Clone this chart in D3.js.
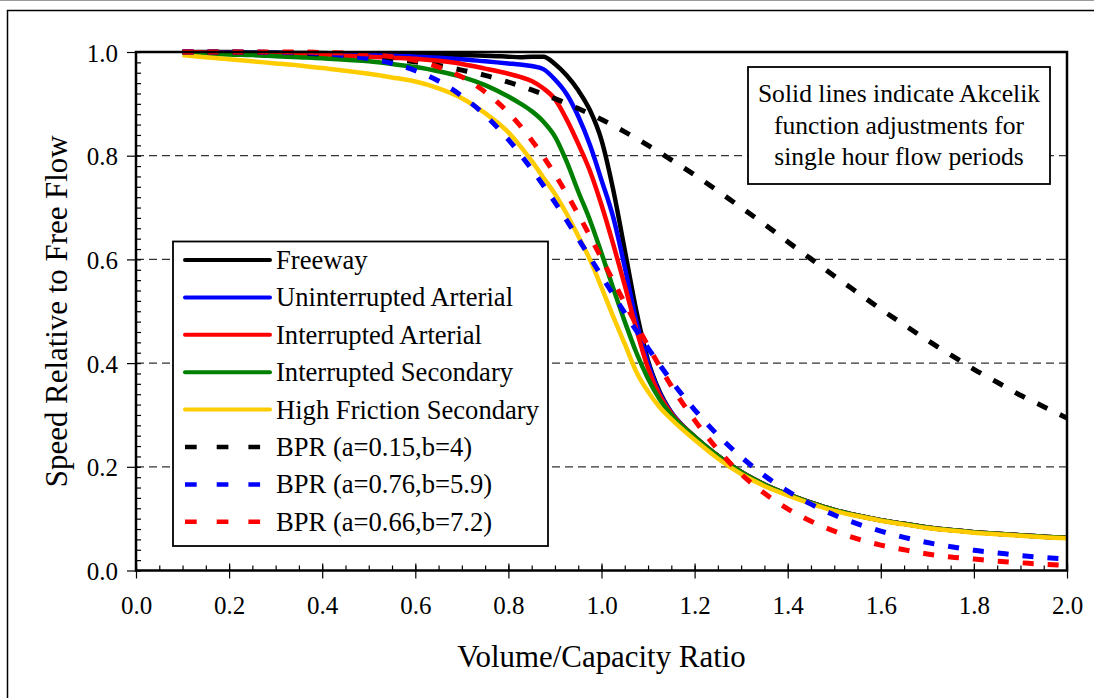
<!DOCTYPE html>
<html>
<head>
<meta charset="utf-8">
<script src="https://cdn.jsdelivr.net/npm/d3@7"></script>
<style>
  body { margin: 0; background: #fff; }
  svg { display: block; font-family: "Liberation Serif", "Times New Roman", serif; }
</style>
</head>
<body>
<div id="chart"></div>
<script>
// Akcelik curves (solid) share one x grid, finer around the knee
const akX = [0.1,0.15,0.2,0.25,0.3,0.35,0.4,0.45,0.5,0.55,0.6,0.65,0.7,0.75,0.8,
    0.825,0.85,0.875,0.9,0.925,0.95,0.975,1.0,1.025,1.05,1.075,1.1,1.125,1.15,
    1.2,1.25,1.3,1.35,1.4,1.45,1.5,1.55,1.6,1.65,1.7,1.75,1.8,1.85,1.9,1.95,2.0]

const freeway = [1.000,1.000,1.000,0.999,0.999,0.998,0.998,0.997,0.997,0.996,0.996,0.995,0.994,0.993,0.991,
    0.990,0.991,0.991,0.977,0.955,0.926,0.888,0.830,0.735,0.618,0.500,0.405,0.345,0.305,
    0.258,0.221,0.190,0.166,0.147,0.131,0.117,0.106,0.097,0.090,0.083,0.078,0.074,0.071,0.068,0.065,0.063]
const uninterruptedArterial = [1.000,0.999,0.999,0.998,0.998,0.997,0.996,0.995,0.994,0.993,0.991,0.989,0.986,0.982,0.978,
    0.976,0.973,0.967,0.947,0.919,0.876,0.821,0.753,0.682,0.585,0.480,0.400,0.342,0.305,
    0.258,0.221,0.190,0.166,0.147,0.131,0.117,0.106,0.097,0.090,0.083,0.078,0.074,0.071,0.068,0.065,0.063]
const interruptedArterial = [1.000,0.999,0.998,0.997,0.996,0.995,0.994,0.993,0.991,0.989,0.987,0.983,0.977,0.968,0.958,
    0.952,0.944,0.930,0.909,0.870,0.823,0.771,0.705,0.630,0.550,0.465,0.390,0.338,0.303,
    0.258,0.221,0.190,0.166,0.147,0.131,0.117,0.106,0.097,0.090,0.083,0.078,0.074,0.071,0.068,0.065,0.063]
const interruptedSecondary = [0.998,0.997,0.995,0.994,0.992,0.990,0.988,0.985,0.982,0.977,0.971,0.963,0.952,0.936,0.914,
    0.901,0.886,0.866,0.837,0.789,0.731,0.676,0.612,0.545,0.480,0.420,0.370,0.330,0.300,
    0.258,0.221,0.190,0.166,0.147,0.131,0.117,0.106,0.097,0.090,0.083,0.078,0.074,0.071,0.068,0.065,0.063]
const highFrictionSecondary = [0.994,0.990,0.986,0.982,0.978,0.974,0.969,0.964,0.958,0.951,0.943,0.930,0.911,0.882,0.845,
    0.819,0.790,0.758,0.726,0.688,0.645,0.600,0.546,0.490,0.437,0.383,0.345,0.315,0.292,
    0.252,0.216,0.186,0.163,0.145,0.129,0.115,0.105,0.096,0.089,0.082,0.077,0.073,0.070,0.067,0.064,0.062]

// BPR curves (dashed)
const bprX = [0.1,0.15,0.2,0.25,0.3,0.35,0.4,0.45,0.5,0.55,0.6,0.65,0.7,0.75,0.8,0.85,0.9,0.95,1.0,1.05,
    1.1,1.15,1.2,1.25,1.3,1.35,1.4,1.45,1.5,1.55,1.6,1.65,1.7,1.75,1.8,1.85,1.9,1.95,2.0]
const bprA015 = [1.000,1.000,1.000,0.999,0.999,0.998,0.996,0.994,0.991,0.987,0.981,0.974,0.965,0.955,0.942,0.927,0.910,0.891,0.870,0.846,
    0.820,0.792,0.763,0.732,0.700,0.668,0.634,0.601,0.568,0.536,0.504,0.474,0.444,0.416,0.388,0.363,0.338,0.316,0.294]
const bprA076 = [1.000,1.000,1.000,1.000,0.999,0.999,0.997,0.993,0.987,0.978,0.964,0.944,0.915,0.878,0.831,0.774,0.710,0.640,0.568,0.497,
    0.429,0.366,0.310,0.261,0.219,0.183,0.153,0.128,0.107,0.090,0.076,0.064,0.054,0.046,0.039,0.034,0.029,0.025,0.022]
const bprA066 = [1.000,1.000,1.000,1.000,1.000,1.000,0.999,0.998,0.996,0.991,0.984,0.971,0.952,0.923,0.883,0.830,0.764,0.687,0.602,0.516,
    0.433,0.356,0.290,0.233,0.186,0.149,0.119,0.095,0.076,0.061,0.049,0.040,0.032,0.026,0.022,0.018,0.015,0.012,0.010]

const xTicks = [0,0.2,0.4,0.6,0.8,1.0,1.2,1.4,1.6,1.8,2.0]
const yTicks = [0,0.2,0.4,0.6,0.8,1.0]
const gridValues = [0.2,0.4,0.6,0.8]
const noteLines = ["Solid lines indicate Akcelik", "function adjustments for", "single hour flow periods"]

const series = [
    { name: "Freeway", xs: akX, ys: freeway, color: "#000000", dashed: false },
    { name: "Uninterrupted Arterial", xs: akX, ys: uninterruptedArterial, color: "#0000ff", dashed: false },
    { name: "Interrupted Arterial", xs: akX, ys: interruptedArterial, color: "#ff0000", dashed: false },
    { name: "Interrupted Secondary", xs: akX, ys: interruptedSecondary, color: "#008000", dashed: false },
    { name: "High Friction Secondary", xs: akX, ys: highFrictionSecondary, color: "#ffcc00", dashed: false },
    { name: "BPR (a=0.15,b=4)", xs: bprX, ys: bprA015, color: "#000000", dashed: true },
    { name: "BPR (a=0.76,b=5.9)", xs: bprX, ys: bprA076, color: "#0000ff", dashed: true },
    { name: "BPR (a=0.66,b=7.2)", xs: bprX, ys: bprA066, color: "#ff0000", dashed: true }
]

const width = 1094, height = 698
const plotLeft = 136, plotRight = 1067, plotTop = 52, plotBottom = 570.5

const svg = d3.select("#chart").append("svg")
    .attr("width", width)
    .attr("height", height)

// outer frame
svg.append("line")
    .attr("x1", 0).attr("x2", width).attr("y1", 0.5).attr("y2", 0.5)
    .attr("stroke", "#9a9a9a").attr("stroke-width", 1)
svg.append("rect")
    .attr("x", 7.5).attr("y", 10.5)
    .attr("width", width + 20).attr("height", height + 20)
    .attr("fill", "none").attr("stroke", "#000").attr("stroke-width", 1.5)

const x = d3.scaleLinear().domain([0, 2]).range([plotLeft, plotRight])
const y = d3.scaleLinear().domain([0, 1]).range([plotBottom, plotTop])

// dashed gridlines
svg.append("g")
    .selectAll("line")
    .data(gridValues)
    .join("line")
    .attr("x1", plotLeft).attr("x2", plotRight)
    .attr("y1", d => y(d)).attr("y2", d => y(d))
    .attr("stroke", "#333").attr("stroke-width", 1.2)
    .attr("stroke-dasharray", "8,5")

// minor ticks (inside)
svg.append("g")
    .attr("transform", `translate(${plotLeft},0)`)
    .call(d3.axisRight(y).tickValues(d3.range(0, 51).map(i => i / 50)).tickSize(5).tickFormat(""))
    .call(g => g.select(".domain").remove())
    .call(g => g.selectAll("line").attr("stroke-width", 1.2))
svg.append("g")
    .attr("transform", `translate(0,${plotBottom})`)
    .call(d3.axisTop(x).tickValues(d3.range(0, 41).map(i => i / 20)).tickSize(5).tickFormat(""))
    .call(g => g.select(".domain").remove())
    .call(g => g.selectAll("line").attr("stroke-width", 1.2))

// x major ticks also poke up into the plot
svg.append("g")
    .attr("transform", `translate(0,${plotBottom})`)
    .call(d3.axisTop(x).tickValues(xTicks).tickSize(7).tickFormat(""))
    .call(g => g.select(".domain").remove())
    .call(g => g.selectAll("line").attr("stroke-width", 1.2))

// major axes
svg.append("g")
    .attr("transform", `translate(${plotLeft},0)`)
    .call(d3.axisLeft(y).tickValues(yTicks).tickSize(9).tickPadding(9).tickFormat(d3.format(".1f")))
    .call(g => g.select(".domain").remove())
    .call(g => g.selectAll("line").attr("stroke-width", 1.2))
    .call(g => g.selectAll("text")
        .attr("font-family", "Liberation Serif")
        .attr("font-size", 25)
        .attr("fill", "#000")
        .attr("dy", "0.36em"))

svg.append("g")
    .attr("transform", `translate(0,${plotBottom})`)
    .call(d3.axisBottom(x).tickValues(xTicks).tickSize(8).tickPadding(18).tickFormat(d3.format(".1f")))
    .call(g => g.select(".domain").remove())
    .call(g => g.selectAll("line").attr("stroke-width", 1.2))
    .call(g => g.selectAll("text")
        .attr("font-family", "Liberation Serif")
        .attr("font-size", 25)
        .attr("fill", "#000"))

// curves
const line = d3.line()
    .x(d => x(d[0]))
    .y(d => y(d[1]))
    .curve(d3.curveMonotoneX)

const plotted = series.filter(s => !s.dashed).concat(series.filter(s => s.dashed))
svg.append("g")
    .selectAll("path")
    .data(plotted)
    .join("path")
    .attr("d", s => line(s.xs.map((v, i) => [v, s.ys[i]])))
    .attr("fill", "none")
    .attr("stroke", s => s.color)
    .attr("stroke-width", s => s.dashed ? 5 : 4.5)
    .attr("stroke-dasharray", s => s.dashed ? "11,14" : null)
    .attr("stroke-linejoin", "round")

// plot frame
svg.append("rect")
    .attr("x", plotLeft).attr("y", plotTop)
    .attr("width", plotRight - plotLeft).attr("height", plotBottom - plotTop)
    .attr("fill", "none").attr("stroke", "#000").attr("stroke-width", 2.5)

// legend
const legend = svg.append("g")
legend.append("rect")
    .attr("x", 173).attr("y", 241.5)
    .attr("width", 375).attr("height", 304.5)
    .attr("fill", "#fff").attr("stroke", "#000").attr("stroke-width", 1.8)

const rows = legend.selectAll("g.row")
    .data(series)
    .join("g")
    .attr("class", "row")
    .attr("transform", (d, i) => `translate(0,${260 + i * 37.4})`)
rows.append("line")
    .attr("x1", 185).attr("x2", d => d.dashed ? 262 : 270)
    .attr("y1", 0).attr("y2", 0)
    .attr("stroke", d => d.color)
    .attr("stroke-width", d => d.dashed ? 4.5 : 4)
    .attr("stroke-linecap", d => d.dashed ? "butt" : "round")
    .attr("stroke-dasharray", d => d.dashed ? "11.7,20" : null)
rows.append("text")
    .attr("x", 276).attr("y", 9)
    .attr("font-size", 26.6)
    .text(d => d.name)

// note box
svg.append("rect")
    .attr("x", 748).attr("y", 67)
    .attr("width", 302).attr("height", 117)
    .attr("fill", "#fff").attr("stroke", "#000").attr("stroke-width", 1.8)
svg.append("g")
    .selectAll("text")
    .data(noteLines)
    .join("text")
    .attr("x", 899)
    .attr("y", (d, i) => 102 + i * 31.5)
    .attr("text-anchor", "middle")
    .attr("font-size", 25.6)
    .text(d => d)

// axis titles
svg.append("text")
    .attr("x", (plotLeft + plotRight) / 2)
    .attr("y", 667)
    .attr("text-anchor", "middle")
    .attr("font-size", 30.9)
    .text("Volume/Capacity Ratio")

svg.append("text")
    .attr("transform", `translate(67,${(plotTop + plotBottom) / 2}) rotate(-90)`)
    .attr("text-anchor", "middle")
    .attr("font-size", 30.9)
    .text("Speed Relative to Free Flow")
</script>
</body>
</html>
